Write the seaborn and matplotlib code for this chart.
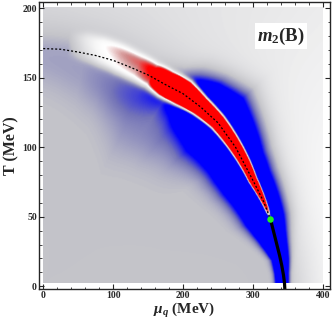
import matplotlib
matplotlib.use("Agg")
import matplotlib.pyplot as plt
import numpy as np
import pandas as pd
import seaborn as sns
from matplotlib.colors import LinearSegmentedColormap
from matplotlib.ticker import MultipleLocator

# crossover line (dashed) and first-order line (solid)
mu_cross = [0, 25, 50, 75, 100, 125, 150, 175, 200, 225, 250, 275, 300, 315, 325]
T_cross = [171, 170.5, 168.5, 166, 162.5, 157.5, 152, 145, 138.5, 129, 117.5, 100, 76, 61, 48]
mu_first = [325, 330, 334, 338, 341, 343.5, 345, 345.5]
T_first = [48, 38, 30, 22, 15, 8, 2, -3]
mu_cep = [325]
T_cep = [48]

# m2 shading around the line, by angle from the mu axis (rad)
phi_knots = [0.0, 0.05, 0.11, 0.2, 0.29, 0.55, 0.76, 0.86, 0.94, 1.0, 1.12, 1.25, 1.4, 1.57]
blue_amp = [2.0, 2.0, 2.0, 2.0, 2.0, 2.0, 2.0, 1.8, 1.0, 0.5, 0.25, 0.1, 0.0, 0.0]
blue_mid = [-0.01, -0.006, 0.0, -0.01, -0.02, -0.025, 0.0, 0.0, -0.005, -0.02, -0.08, -0.1, -0.1, -0.1]
blue_w = [0.022, 0.024, 0.03, 0.05, 0.072, 0.105, 0.14, 0.12, 0.11, 0.1, 0.1, 0.1, 0.1, 0.1]

haze_knots = [0.0, 0.6, 0.9, 1.1, 1.3, 1.57]
haze_amp = [0.0, 0.0, 0.2, 0.17, 0.12, 0.1]
haze_mid = [-0.2, -0.2, -0.2, -0.2, -0.1, -0.04]
haze_w = [0.12, 0.12, 0.13, 0.15, 0.14, 0.12]

red_knots = [0.27, 0.32, 0.45, 0.95, 1.03, 1.1, 1.17, 1.25, 1.33, 1.4, 1.47]
red_amp = [0.0, 2.5, 3.5, 3.5, 2.4, 1.0, 0.72, 0.6, 0.45, 0.25, 0.0]
red_w = [0.002, 0.01, 0.02, 0.055, 0.055, 0.056, 0.06, 0.062, 0.062, 0.058, 0.05]
red_mid = [0.0, 0.0, -0.001, -0.001, -0.001, 0.001, 0.005, 0.011, 0.018, 0.024, 0.024]

glow_knots = [0.0, 0.3, 0.6, 0.9, 1.2, 1.57]
glow_amp = [0.42, 0.4, 0.32, 0.25, 0.2, 0.16]

sns.set_style("ticks")
plt.rcParams["font.family"] = ["Liberation Serif", "DejaVu Serif"]
plt.rcParams["font.weight"] = "bold"
plt.rcParams["mathtext.fontset"] = "custom"
plt.rcParams["mathtext.rm"] = "Liberation Serif:bold"
plt.rcParams["mathtext.bf"] = "Liberation Serif:bold"
plt.rcParams["mathtext.it"] = "Liberation Serif:italic:bold"

# distance of every grid point from the transition line
mu = np.linspace(0, 400, 401)
T = np.linspace(2, 200, 300)
MU, TT = np.meshgrid(mu, T)
u, v = MU / 345, TT / 171
rho = np.hypot(u, v)
phi = np.arctan2(v, u)
bu = np.array(mu_cross + mu_first[1:]) / 345
bv = np.array(T_cross + T_first[1:]) / 171
bphi = np.arctan2(bv, bu)
order = np.argsort(bphi)
x = rho - np.interp(phi, bphi[order], np.hypot(bu, bv)[order])


def at(knots, vals):
    return np.interp(phi, knots, vals)


blue = -at(phi_knots, blue_amp) * np.exp(-((x - at(phi_knots, blue_mid)) / at(phi_knots, blue_w)) ** 2)
haze = -at(haze_knots, haze_amp) * np.exp(-((x - at(haze_knots, haze_mid)) / at(haze_knots, haze_w)) ** 2)
red = at(red_knots, red_amp) * np.exp(-((x - at(red_knots, red_mid)) / at(red_knots, red_w)) ** 4)
glow = at(glow_knots, glow_amp) * np.tanh(np.clip(x, 0, None) / 0.18)
field = blue + haze + red + glow

cmap = LinearSegmentedColormap.from_list("m2", [
    (0.0, (0, 0, 1)), (0.25, (0, 0, 1)), (0.375, (0.45, 0.45, 0.72)),
    (0.5, (0.77, 0.77, 0.79)), (0.675, (0.97, 0.97, 0.97)), (0.725, (1, 1, 1)),
    (0.8, (0.82, 0.55, 0.55)), (0.9, (1, 0, 0)), (1.0, (1, 0, 0))])

fig = plt.figure(figsize=(3.32, 3.27), dpi=100)
ax = fig.add_axes([39 / 332, 1 - 289 / 327, 291 / 332, 287 / 327])
ax.imshow(field, cmap=cmap, vmin=-1, vmax=1, origin="lower", extent=(0, 400, 2, 200),
          aspect="auto", interpolation="bilinear")

cross = pd.DataFrame({"mu": mu_cross, "T": T_cross})
first = pd.DataFrame({"mu": mu_first, "T": T_first})
sns.lineplot(data=cross, x="mu", y="T", sort=False, estimator=None, color="black",
             lw=0.9, linestyle=(0, (1.6, 1.6)), ax=ax)
sns.lineplot(data=first, x="mu", y="T", sort=False, estimator=None, color="black",
             lw=2.3, ax=ax)
sns.scatterplot(x=mu_cep, y=T_cep, color="#22ee22", s=22, edgecolor="none", zorder=5, ax=ax)

ax.text(340, 180, r"$m_2$(B)", fontsize=13.5, fontweight="bold", ha="center", va="center",
        bbox=dict(facecolor="white", edgecolor="none", pad=1.5))

ax.set_xlim(-6, 410)
ax.set_ylim(-2, 204.5)
ax.xaxis.set_major_locator(MultipleLocator(100))
ax.xaxis.set_minor_locator(MultipleLocator(20))
ax.yaxis.set_major_locator(MultipleLocator(50))
ax.yaxis.set_minor_locator(MultipleLocator(10))
ax.tick_params(which="both", direction="in", top=True, right=True, labelsize=7, pad=1.5)
ax.tick_params(which="major", length=3.5, width=0.8)
ax.tick_params(which="minor", length=1.8, width=0.6)
for lab in ax.get_xticklabels() + ax.get_yticklabels():
    lab.set_fontweight("bold")
for sp in ax.spines.values():
    sp.set_linewidth(1.0)
ax.set_xlabel(r"$\mu_q$ (MeV)", fontsize=11, fontweight="bold", labelpad=1)
ax.set_ylabel("T (MeV)", fontsize=11.5, fontweight="bold", labelpad=2)

fig.savefig("out.png", dpi=100)
